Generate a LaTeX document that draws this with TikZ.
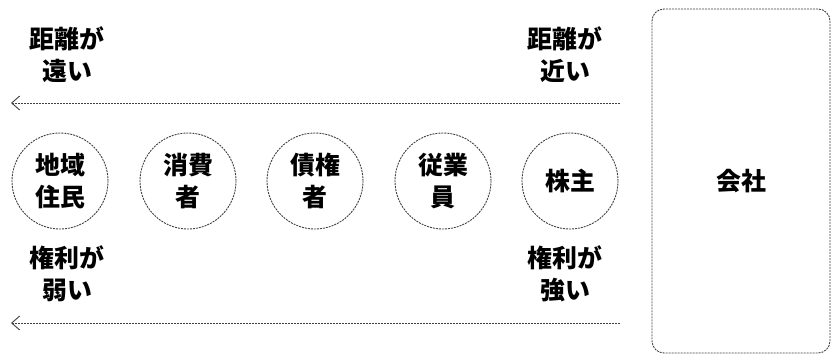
\documentclass[tikz,border=0pt]{standalone}
\usepackage{fontspec}
\newfontfamily\jp{Noto Sans CJK JP Black}
\usetikzlibrary{arrows.meta}
\begin{document}
\begin{tikzpicture}[x=1bp,y=-1bp,
  dline/.style={draw=black!75,line width=0.9bp,dash pattern=on 2bp off 1bp},
  actor/.style={circle,dline,minimum size=96bp,inner sep=0pt,align=center,font=\jp\fontsize{25}{33}\selectfont},
  lbl/.style={align=center,font=\jp\fontsize{25}{32}\selectfont},
  arr/.style={dline,-{Straight Barb[length=8bp,width=14bp,line width=0.9bp]}}]
\useasboundingbox (0,0) rectangle (833,354);
\node[actor] (a1) at (60,181) {地域\\住民};
\node[actor] (a2) at (188,181) {消費\\者};
\node[actor] (a3) at (315,181) {債権\\者};
\node[actor] (a4) at (443,181) {従業\\員};
\node[actor] (a5) at (570,181) {株主};
\node[dline,rounded corners=12bp,minimum width=178bp,minimum height=344bp,font=\jp\fontsize{25}{33}\selectfont] (co) at (741,181) {会社};
\node[lbl] (t1) at (67,55) {距離が\\遠い};
\node[lbl] (t2) at (565,55) {距離が\\近い};
\node[lbl] (t3) at (67,274) {権利が\\弱い};
\node[lbl] (t4) at (565,274) {権利が\\強い};
\coordinate (s1) at (620,103);
\coordinate (e1) at (11,103);
\coordinate (s2) at (620,323);
\coordinate (e2) at (11,323);
\draw[arr] (s1) -- (e1);
\draw[arr] (s2) -- (e2);
\end{tikzpicture}
\end{document}
